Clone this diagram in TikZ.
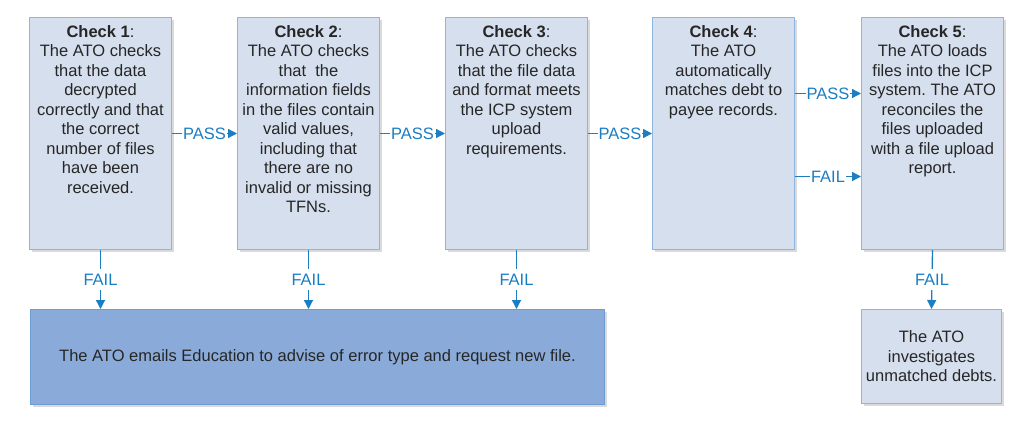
\documentclass[tikz,border=0pt]{standalone}
\usepackage{fontspec}
\setmainfont{Liberation Sans}
\usetikzlibrary{arrows.meta,shadows,positioning}
\definecolor{boxfill}{HTML}{D6DFEE}
\definecolor{boxline}{HTML}{8CB6DE}
\definecolor{bigfill}{HTML}{8AABD9}
\definecolor{bigline}{HTML}{6E9DD3}
\definecolor{conn}{HTML}{1B7DC2}
\definecolor{txt}{HTML}{262626}
\definecolor{shade}{HTML}{DADADA}
\frenchspacing
\begin{document}
\begin{tikzpicture}[x=1pt,y=-1pt,
  shadowed/.style={general shadow={fill=shade, shadow xshift=2pt, shadow yshift=-2pt}},
  checkbox/.style={draw=boxline, fill=boxfill, line width=1pt, minimum width=142pt, minimum height=232pt, inner sep=0pt, anchor=north west, shadowed},
  resultbox/.style={draw=boxline, fill=boxfill, line width=1pt, minimum width=140pt, minimum height=94pt, inner sep=0pt, align=center, text=txt, font=\fontsize{16.5}{19.5}\selectfont, anchor=north west, shadowed},
  bigbox/.style={draw=bigline, fill=bigfill, line width=1pt, minimum width=574pt, minimum height=95pt, inner sep=0pt, text=txt, font=\fontsize{16.5}{19.5}\selectfont, anchor=north west, shadowed},
  ctext/.style={align=center, inner sep=0pt, text=txt, font=\fontsize{16.5}{19.5}\selectfont},
  flow/.style={draw=conn, line width=1.3pt, -{Triangle[length=9pt,width=9pt]}},
  lbl/.style={fill=white, inner xsep=1pt, inner ysep=5pt, text=conn, font=\fontsize{16.5}{18}\selectfont}
]
\useasboundingbox (0,0) rectangle (1036,424);
\fill[white] (0,0) rectangle (1036,424);

\node[checkbox] (c1) at (29,17) {};
\node[checkbox] (c2) at (237,17) {};
\node[checkbox] (c3) at (445,17) {};
\node[checkbox] (c4) at (652,17) {};
\node[checkbox] (c5) at (861,17) {};

\node[ctext, below=8pt of c1.north] (t1) {\textbf{Check 1}:\\The ATO checks\\that the data\\decrypted\\correctly and that\\the correct\\number of files\\have been\\received.};
\node[ctext, below=8pt of c2.north] (t2) {\textbf{Check 2}:\\The ATO checks\\that\ \ the\\information fields\\in the files contain\\valid values,\\including that\\there are no\\invalid or missing\\TFNs.};
\node[ctext, below=8pt of c3.north] (t3) {\textbf{Check 3}:\\The ATO checks\\that the file data\\and format meets\\the ICP system\\upload\\requirements.};
\node[ctext, below=8pt of c4.north] (t4) {\textbf{Check 4}:\\The ATO\\automatically\\matches debt to\\payee records.};
\node[ctext, below=8pt of c5.north] (t5) {\textbf{Check 5}:\\The ATO loads\\files into the ICP\\system. The ATO\\reconciles the\\files uploaded\\with a file upload\\report.};

\node[bigbox] (big) at (30,309) {The ATO emails Education to advise of error type and request new file.};
\node[resultbox] (inv) at (861,309) {The ATO\\investigates\\unmatched debts.};

\draw[flow] (c1) -- node[lbl] {PASS} (c2);
\draw[flow] (c2) -- node[lbl] {PASS} (c3);
\draw[flow] (c3) -- node[lbl] {PASS} (c4);
\draw[flow] ([yshift=40pt]c4.east) -- node[lbl] {PASS} ([yshift=40pt]c5.west);
\draw[flow] ([yshift=-43pt]c4.east) -- node[lbl] {FAIL} ([yshift=-43pt]c5.west);

\draw[flow] (c1.south) -- node[lbl] {FAIL} (c1.south |- big.north);
\draw[flow] (c2.south) -- node[lbl] {FAIL} (c2.south |- big.north);
\draw[flow] (c3.south) -- node[lbl] {FAIL} (c3.south |- big.north);
\draw[flow] (c5.south) -- node[lbl] {FAIL} (inv.north);
\end{tikzpicture}
\end{document}
